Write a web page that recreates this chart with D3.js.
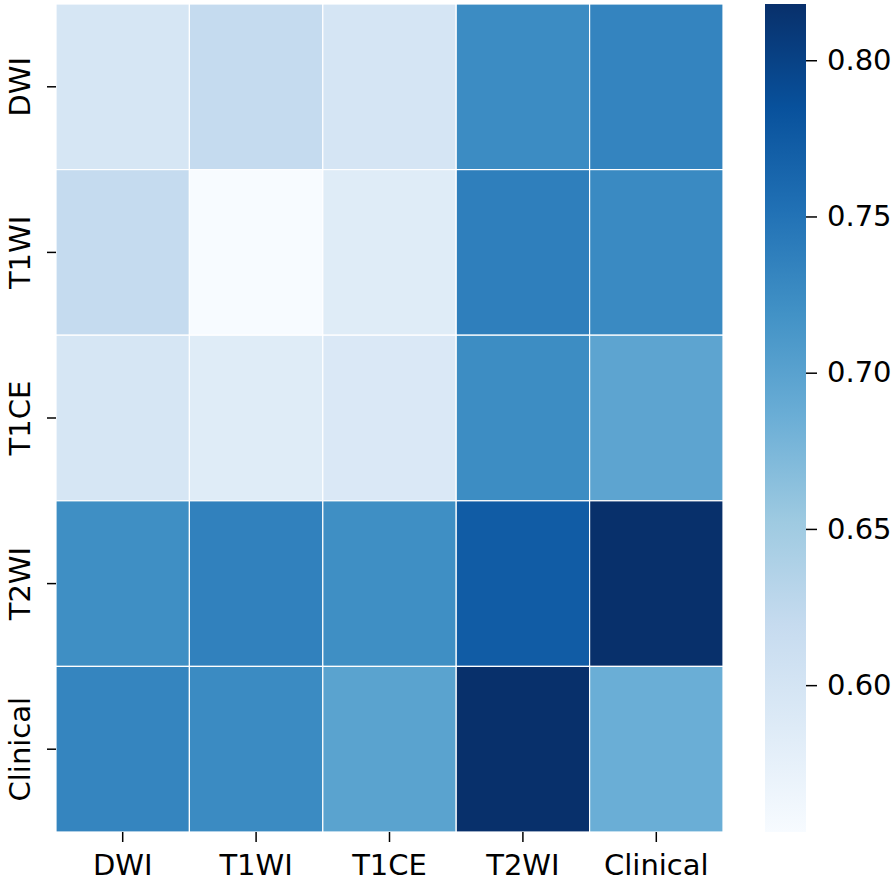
<!DOCTYPE html>
<html>
<head>
<meta charset="utf-8">
<script src="https://cdn.jsdelivr.net/npm/d3@7"></script>
<style>
  body { margin: 0; background: #fff; }
  svg { display: block; }
  text { font-family: "DejaVu Sans", sans-serif; fill: #000; }
</style>
</head>
<body>
<div id="chart"></div>
<script>
// row / column labels
var rowLabels = ["DWI", "T1WI", "T1CE", "T2WI", "Clinical"];
var colLabels = ["DWI", "T1WI", "T1CE", "T2WI", "Clinical"];

// values, one array per row
var rowDWI      = [0.597, 0.620, 0.598, 0.725, 0.733];
var rowT1WI     = [0.620, 0.553, 0.585, 0.738, 0.727];
var rowT1CE     = [0.597, 0.585, 0.592, 0.724, 0.697];
var rowT2WI     = [0.722, 0.736, 0.722, 0.773, 0.818];
var rowClinical = [0.732, 0.726, 0.699, 0.818, 0.686];
var matrix = [rowDWI, rowT1WI, rowT1CE, rowT2WI, rowClinical];

var colorbarTicks = [0.60, 0.65, 0.70, 0.75, 0.80];
var vmin = 0.553, vmax = 0.818;

var width = 893, height = 882;
var fontSize = 29;

var hm = {left: 56, right: 723, top: 4, bottom: 832};
var cb = {left: 765, right: 806};

var svg = d3.select("#chart").append("svg")
  .attr("width", width)
  .attr("height", height);

// matplotlib style Blues: linear between the 9 brewer colours
var blues = d3.schemeBlues[9];
var color = d3.scaleLinear()
  .domain(d3.range(9).map(i => vmin + (vmax - vmin) * i / 8))
  .range(blues)
  .interpolate(d3.interpolateRgb)
  .clamp(true);

var x = d3.scaleBand().domain(colLabels).range([hm.left, hm.right]);
var y = d3.scaleBand().domain(rowLabels).range([hm.top, hm.bottom]);

var cells = [];
matrix.forEach((row, i) => {
  row.forEach((v, j) => {
    cells.push({row: rowLabels[i], col: colLabels[j], value: v});
  });
});

svg.append("g")
  .selectAll("rect")
  .data(cells)
  .enter()
  .append("rect")
  .attr("x", d => x(d.col))
  .attr("y", d => y(d.row))
  .attr("width", x.bandwidth())
  .attr("height", y.bandwidth())
  .attr("fill", d => color(d.value))
  .attr("stroke", "white")
  .attr("stroke-width", 1.2);

// x axis
var xAxis = svg.append("g")
  .attr("transform", "translate(0," + hm.bottom + ")")
  .call(d3.axisBottom(x).tickSize(10).tickPadding(12));
xAxis.select(".domain").remove();
xAxis.selectAll("line").attr("stroke", "#000").attr("stroke-width", 1.5);
xAxis.selectAll("text").attr("font-size", fontSize).attr("font-family", "DejaVu Sans");

// y axis, labels rotated
var yAxis = svg.append("g")
  .attr("transform", "translate(" + hm.left + ",0)")
  .call(d3.axisLeft(y).tickSize(9));
yAxis.select(".domain").remove();
yAxis.selectAll("line").attr("stroke", "#000").attr("stroke-width", 1.5);
yAxis.selectAll("text")
  .attr("font-size", fontSize)
  .attr("font-family", "DejaVu Sans")
  .attr("x", 0)
  .attr("y", -26)
  .attr("dy", 0)
  .attr("text-anchor", "middle")
  .attr("transform", "rotate(-90)");

// colorbar
var defs = svg.append("defs");
var grad = defs.append("linearGradient")
  .attr("id", "cbgrad")
  .attr("x1", "0%").attr("y1", "100%")
  .attr("x2", "0%").attr("y2", "0%");
grad.selectAll("stop")
  .data(blues)
  .enter().append("stop")
  .attr("offset", (d, i) => (i / 8 * 100) + "%")
  .attr("stop-color", d => d);

svg.append("rect")
  .attr("x", cb.left)
  .attr("y", hm.top)
  .attr("width", cb.right - cb.left)
  .attr("height", hm.bottom - hm.top)
  .attr("fill", "url(#cbgrad)");

var cbScale = d3.scaleLinear().domain([vmin, vmax]).range([hm.bottom, hm.top]);
var cbAxis = svg.append("g")
  .attr("transform", "translate(" + cb.right + ",0)")
  .call(d3.axisRight(cbScale).tickValues(colorbarTicks).tickFormat(d3.format(".2f")).tickSize(11).tickPadding(10));
cbAxis.select(".domain").remove();
cbAxis.selectAll("line").attr("stroke", "#000").attr("stroke-width", 1.5);
cbAxis.selectAll("text").attr("font-size", fontSize).attr("font-family", "DejaVu Sans");
</script>
</body>
</html>
